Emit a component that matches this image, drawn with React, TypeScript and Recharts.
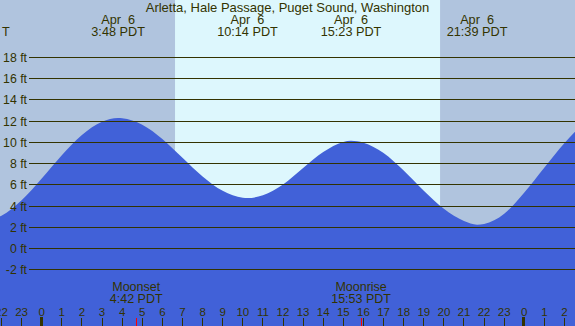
import {
  ComposedChart,
  Area,
  XAxis,
  YAxis,
  ReferenceArea,
} from "recharts";

const W = 575;
const H = 326;

// visible window, in hours from midnight Apr 6 (PDT) and feet
const X_MIN = -2.074;
const X_MAX = 26.52;
const Y_MIN = -7.27;
const Y_MAX = 23.4;

const TITLE = "Arletta, Hale Passage, Puget Sound, Washington";

// tide height (ft)
const hours = [
  -2.5, -2, -1, 0, 1, 2, 3, 3.8, 4, 5, 6, 7, 8, 9, 10, 10.23, 11, 12, 13, 14,
  15, 15.38, 16, 17, 18, 19, 20, 21, 21.65, 22, 23, 24, 25, 26, 27,
];
const heights = [
  2.75, 3.1, 4.55, 6.6, 8.8, 10.7, 11.95, 12.3, 12.28, 11.67, 10.33, 8.56,
  6.8, 5.45, 4.8, 4.77, 5.03, 6.05, 7.6, 9.1, 10.05, 10.16, 9.98, 9.0, 7.35,
  5.45, 3.75, 2.6, 2.26, 2.33, 3.3, 5.3, 7.65, 9.95, 11.9,
];

// highs / lows shown along the top
const extremeHours = [3.8, 10.233, 15.383, 21.65];
const extremeDates = ["Apr  6", "Apr  6", "Apr  6", "Apr  6"];
const extremeTimes = ["3:48 PDT", "10:14 PDT", "15:23 PDT", "21:39 PDT"];

// moon events along the bottom
const moonHours = [4.7, 15.883];
const moonNames = ["Moonset", "Moonrise"];
const moonTimes = ["4:42 PDT", "15:53 PDT"];

const SUNRISE = 6.63;
const SUNSET = 19.81;

const hourTicks = [
  -2, -1, 0, 1, 2, 3, 4, 5, 6, 7, 8, 9, 10, 11, 12, 13, 14, 15, 16, 17, 18, 19,
  20, 21, 22, 23, 24, 25, 26,
];
const feetTicks = [-2, 0, 2, 4, 6, 8, 10, 12, 14, 16, 18];

const NIGHT = "#b0c4de";
const DAY = "#ddf7fd";
const WATER = "#4161d8";
const INK = "#333300";
const FONT = '"Liberation Sans", Arial, sans-serif';

const data = hours.map((h, i) => ({ h, ft: heights[i] }));

// keep 1px lines on whole pixels
const crisp = (v: number) => Math.floor(v) + 0.5;

function FeetTick(props: any) {
  const { y, payload } = props;
  const ly = crisp(y);
  return (
    <g>
      <line x1={29} x2={W} y1={ly} y2={ly} stroke={INK} strokeWidth={1} />
      <text
        x={27}
        y={y + 4.5}
        textAnchor="end"
        fontSize={12.3}
        fontFamily={FONT}
        fill={INK}
      >
        {payload.value} ft
      </text>
    </g>
  );
}

function HourTick(props: any) {
  const { x, payload } = props;
  const label = ((payload.value % 24) + 24) % 24;
  const lx = crisp(x);
  return (
    <g>
      <text
        x={x}
        y={315.7}
        textAnchor="middle"
        fontSize={11.5}
        fontFamily={FONT}
        fill={INK}
      >
        {label}
      </text>
      {label === 0 ? (
        <rect x={Math.round(x) - 2} y={317} width={3} height={9} fill={INK} />
      ) : (
        <line x1={lx} x2={lx} y1={318} y2={H} stroke={INK} />
      )}
    </g>
  );
}

function ExtremeTick(props: any) {
  const { x, payload } = props;
  const i = extremeHours.indexOf(payload.value);
  return (
    <g fontSize={12.7} fontFamily={FONT} fill={INK} textAnchor="middle">
      <text x={x} y={24.3} style={{ whiteSpace: "pre" }}>
        {extremeDates[i]}
      </text>
      <text x={x} y={36}>
        {extremeTimes[i]}
      </text>
    </g>
  );
}

function MoonTick(props: any) {
  const { x, payload } = props;
  const i = moonHours.indexOf(payload.value);
  const lx = crisp(x);
  return (
    <g>
      <g fontSize={12.5} fontFamily={FONT} fill={INK} textAnchor="middle">
        <text x={x} y={291}>
          {moonNames[i]}
        </text>
        <text x={x} y={303.3}>
          {moonTimes[i]}
        </text>
      </g>
      <line x1={lx} x2={lx} y1={318} y2={H} stroke="#ff0000" />
    </g>
  );
}

export default function App() {
  return (
    <div style={{ width: W, height: H, background: NIGHT, position: "relative" }}>
      <style>{"body{margin:0}"}</style>
      {/* axes get 1px each; negative margins keep the plot at full size */}
      <ComposedChart
        width={W}
        height={H}
        data={data}
        margin={{ top: -1, right: 0, bottom: -2, left: -1 }}
      >
        <ReferenceArea
          x1={SUNRISE}
          x2={SUNSET}
          y1={Y_MIN}
          y2={Y_MAX}
          fill={DAY}
          fillOpacity={1}
          stroke="none"
          ifOverflow="hidden"
        />
        <Area
          dataKey="ft"
          type="monotone"
          baseValue={Y_MIN}
          fill={WATER}
          fillOpacity={1}
          stroke="none"
          dot={false}
          activeDot={false}
          isAnimationActive={false}
        />
        <XAxis
          dataKey="h"
          type="number"
          domain={[X_MIN, X_MAX]}
          allowDataOverflow
          ticks={hourTicks}
          interval={0}
          height={1}
          axisLine={false}
          tickLine={false}
          tick={<HourTick />}
        />
        <XAxis
          xAxisId="top"
          orientation="top"
          dataKey="h"
          type="number"
          domain={[X_MIN, X_MAX]}
          allowDataOverflow
          ticks={extremeHours}
          interval={0}
          height={1}
          axisLine={false}
          tickLine={false}
          tick={<ExtremeTick />}
        />
        <XAxis
          xAxisId="moon"
          dataKey="h"
          type="number"
          domain={[X_MIN, X_MAX]}
          allowDataOverflow
          ticks={moonHours}
          interval={0}
          height={1}
          axisLine={false}
          tickLine={false}
          tick={<MoonTick />}
        />
        <YAxis
          type="number"
          domain={[Y_MIN, Y_MAX]}
          allowDataOverflow
          ticks={feetTicks}
          interval={0}
          width={1}
          axisLine={false}
          tickLine={false}
          tick={<FeetTick />}
        />
      </ComposedChart>
      <svg
        width={W}
        height={H}
        style={{ position: "absolute", left: 0, top: 0, pointerEvents: "none" }}
      >
        <text
          x={W / 2}
          y={11.7}
          textAnchor="middle"
          fontSize={13}
          fontFamily={FONT}
          fill={INK}
        >
          {TITLE}
        </text>
        <text x={2} y={36} fontSize={12.7} fontFamily={FONT} fill={INK}>
          T
        </text>
      </svg>
    </div>
  );
}
